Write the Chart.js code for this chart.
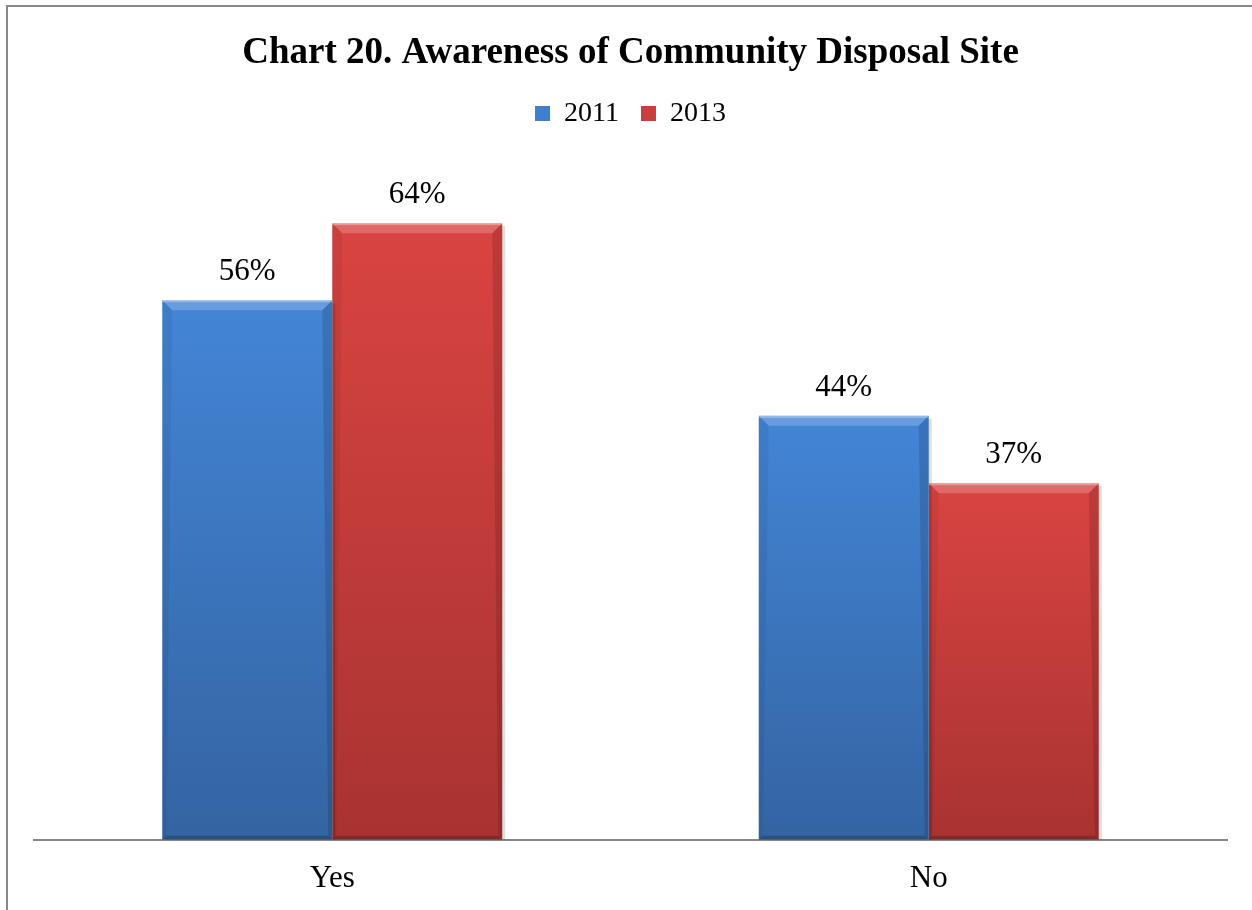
<!DOCTYPE html>
<html>
<head>
<meta charset="utf-8">
<script src="https://cdn.jsdelivr.net/npm/chart.js@4"></script>
<style>
html,body{margin:0;padding:0;background:#fff;overflow:hidden;}
#wrap{position:absolute;left:0;top:0;width:1252px;height:910px;}
#frame{position:absolute;left:6px;top:5px;width:1400px;height:1100px;border:2px solid #878787;pointer-events:none;}
</style>
</head>
<body>
<div id="wrap"><canvas id="chart" width="1252" height="910"></canvas></div>
<div id="frame"></div>
<script>
// data
let categories = ["Yes", "No"];
let years = ["2011", "2013"];
let values2011 = [0.56, 0.44];
let values2013 = [0.64, 0.37];

let serif = "'Liberation Serif', 'Times New Roman', serif";

let palette = {
"2011":{solid:"#3f7fcf", top:"#4385d6", bottom:"#3464a2"},
"2013":{solid:"#c8403d", top:"#d94442", bottom:"#a83331"}
};

function barFill(c){
let p = palette[c.dataset.label];
let chart = c.chart;
if(!chart.chartArea || c.raw === undefined) return p.solid;
let yScale = chart.scales.y;
let y0 = yScale.getPixelForValue(c.raw);
let y1 = yScale.getPixelForValue(0);
let g = chart.ctx.createLinearGradient(0, y0, 0, y1);
g.addColorStop(0, p.top);
g.addColorStop(1, p.bottom);
return g;
}

/* bevel look of the bars */
let bevel = {
id:"bevel",
afterDatasetsDraw(chart){
let ctx = chart.ctx;
chart.data.datasets.forEach((ds, i)=>{
chart.getDatasetMeta(i).data.forEach(bar=>{
let x0 = bar.x - bar.width/2, x1 = bar.x + bar.width/2;
let y0 = bar.y, yb = bar.base;
let b = 10, s = 4;
ctx.save();
// shadow on the right
ctx.fillStyle = "rgba(0,0,0,0.13)";
ctx.fillRect(x1, y0+3, 3, yb-y0-3);
// top strip
ctx.beginPath();
ctx.moveTo(x0, y0); ctx.lineTo(x1, y0); ctx.lineTo(x1-b, y0+b); ctx.lineTo(x0+b, y0+b); ctx.closePath();
ctx.fillStyle = "rgba(255,255,255,0.2)";
ctx.fill();
ctx.fillStyle = "rgba(255,255,255,0.3)";
ctx.fillRect(x0, y0, bar.width, 2);
// left edge
ctx.beginPath();
ctx.moveTo(x0, y0); ctx.lineTo(x0+b, y0+b); ctx.lineTo(x0+s, yb-s); ctx.lineTo(x0, yb); ctx.closePath();
ctx.fillStyle = "rgba(0,0,0,0.06)";
ctx.fill();
// right edge
ctx.beginPath();
ctx.moveTo(x1, y0); ctx.lineTo(x1-b, y0+b); ctx.lineTo(x1-s, yb-s); ctx.lineTo(x1, yb); ctx.closePath();
ctx.fillStyle = "rgba(0,0,0,0.13)";
ctx.fill();
// bottom edge
ctx.beginPath();
ctx.moveTo(x0, yb); ctx.lineTo(x0+s, yb-s); ctx.lineTo(x1-s, yb-s); ctx.lineTo(x1, yb); ctx.closePath();
ctx.fillStyle = "rgba(0,0,0,0.2)";
ctx.fill();
ctx.restore();
});
});
}
};

/* percent labels over the bars */
let valueLabels = {
id:"valueLabels",
afterDatasetsDraw(chart){
let ctx = chart.ctx;
ctx.save();
ctx.font = "31px " + serif;
ctx.fillStyle = "#000";
ctx.textAlign = "center";
ctx.textBaseline = "alphabetic";
chart.data.datasets.forEach((ds, i)=>{
chart.getDatasetMeta(i).data.forEach((bar, j)=>{
ctx.fillText(Math.round(ds.data[j]*100) + "%", bar.x, bar.y - 20);
});
});
ctx.restore();
}
};

new Chart(document.getElementById("chart"),{
type:"bar",
data:{
labels:categories,
datasets:[
{label:years[0], data:values2011, backgroundColor:barFill, borderWidth:0},
{label:years[1], data:values2013, backgroundColor:barFill, borderWidth:0}
]
},
options:{
responsive:false,
animation:false,
layout:{padding:{left:34, right:25, top:0, bottom:-7}},
datasets:{bar:{categoryPercentage:0.57, barPercentage:1}},
scales:{
x:{
grid:{display:false, drawTicks:false},
border:{display:true, color:"#878787", width:2},
ticks:{color:"#000", padding:20, font:{family:serif, size:31}}
},
y:{
display:false,
min:0,
max:0.729
}
},
plugins:{
title:{
display:true,
text:"Chart 20. Awareness of Community Disposal Site",
color:"#000",
font:{family:serif, size:37, weight:"bold"},
padding:{top:31, bottom:2}
},
legend:{
display:true,
labels:{
color:"#000",
font:{family:serif, size:28},
boxWidth:15,
boxHeight:15,
padding:22,
generateLabels(chart){
return chart.data.datasets.map((ds, i)=>({
text:ds.label,
fillStyle:palette[ds.label].solid,
strokeStyle:palette[ds.label].solid,
lineWidth:0,
datasetIndex:i
}));
}
}
},
tooltip:{enabled:false}
}
},
plugins:[bevel, valueLabels]
});
</script>
</body>
</html>
